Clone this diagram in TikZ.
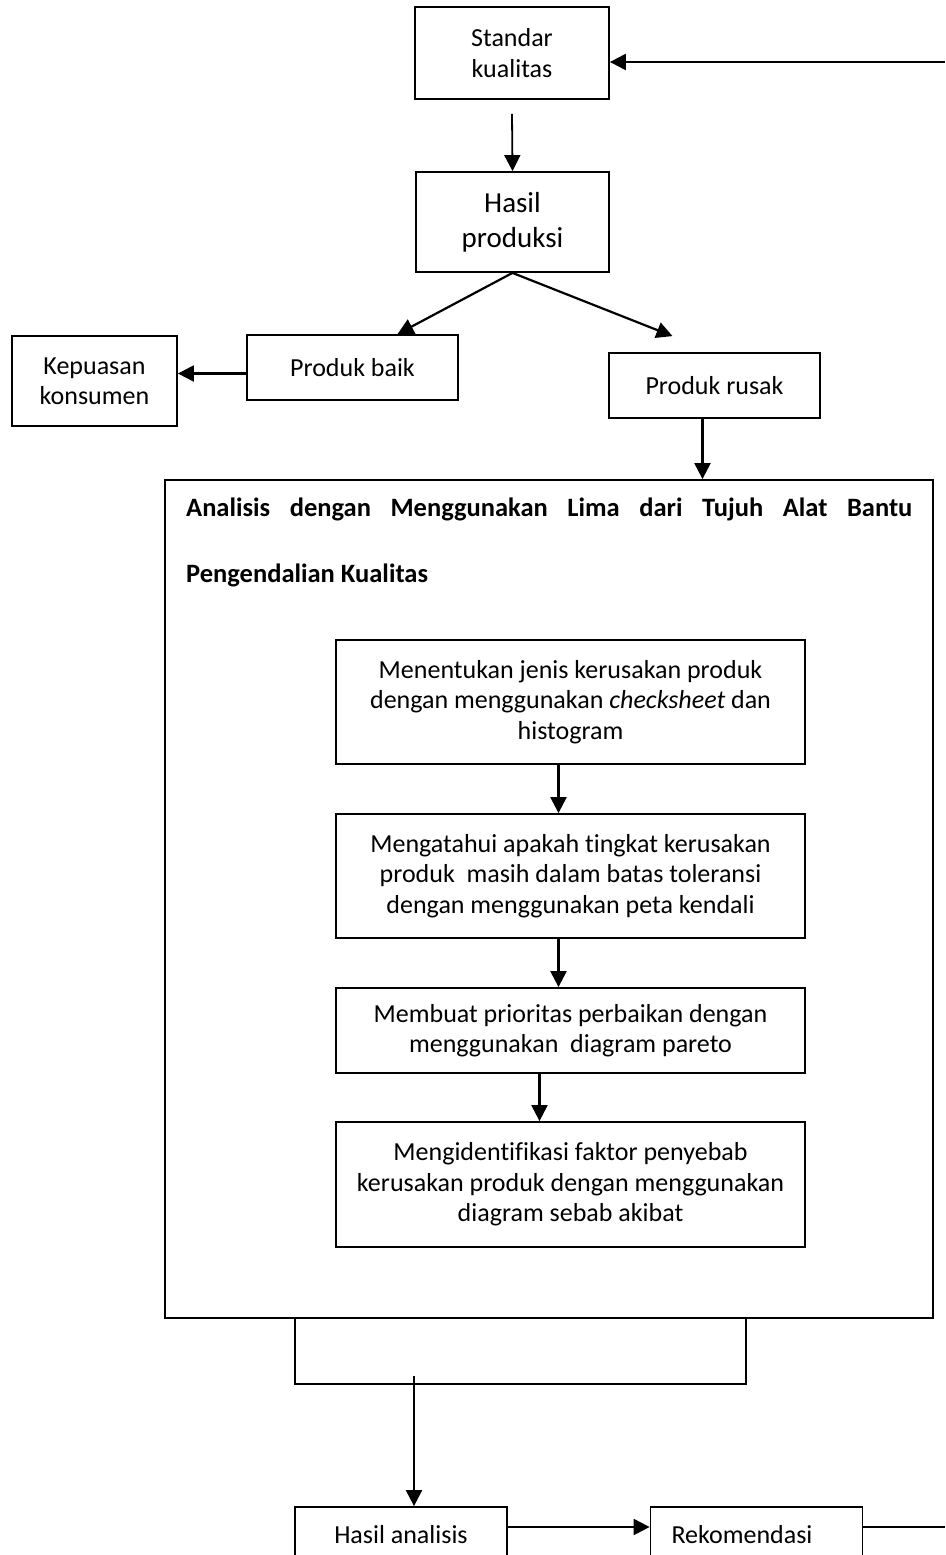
\documentclass[tikz,border=0pt]{standalone}
\usepackage{fontspec}
\setmainfont{Carlito}[Ligatures=NoCommon]
\usetikzlibrary{arrows.meta}
\tikzset{
  kotak/.style={draw,line width=1.8pt,rectangle,align=center,inner sep=0pt,
    font=\fontsize{26}{30.5}\selectfont},
  panah/.style={line width=2.2pt,-{Triangle[length=16pt,width=16pt]}},
}
\begin{document}
\begin{tikzpicture}[x=1pt,y=-1pt]
\clip (0,0) rectangle (945,1555);

%atas
\node[kotak,minimum width=194pt,minimum height=92pt] (std) at (512,53) {Standar\\kualitas};
\node[kotak,minimum width=193pt,minimum height=100pt,font=\fontsize{29}{35}\selectfont] (hasil) at (512.5,222) {Hasil\\produksi};
\node[kotak,minimum width=211pt,minimum height=65pt] (baik) at (352.5,367.5) {Produk baik};
\node[kotak,minimum width=165pt,minimum height=90pt] (puas) at (94.5,381) {Kepuasan\\konsumen};
\node[kotak,minimum width=211pt,minimum height=65pt] (rusak) at (714.5,385.5) {Produk rusak};

%kotak analisis
\node[kotak,minimum width=768pt,minimum height=838pt] (analisis) at (549,899) {};
\node[anchor=west,inner sep=0pt,font=\fontsize{26.5}{30}\selectfont\bfseries] (judul1) at (186,509)
  {\makebox[726pt][s]{Analisis dengan Menggunakan Lima dari Tujuh Alat Bantu}};
\node[anchor=west,inner sep=0pt,font=\fontsize{26.5}{30}\selectfont\bfseries] (judul2) at (186,575)
  {Pengendalian Kualitas};

\node[kotak,minimum width=469pt,minimum height=124pt] (k1) at (570.5,702)
  {Menentukan jenis kerusakan produk\\dengan menggunakan \textit{checksheet} dan\\histogram};
\node[kotak,minimum width=469pt,minimum height=124pt] (k2) at (570.5,876)
  {Mengatahui apakah tingkat kerusakan\\produk\ \ masih dalam batas toleransi\\dengan menggunakan peta kendali};
\node[kotak,minimum width=469pt,minimum height=85pt] (k3) at (570.5,1030.5)
  {Membuat prioritas perbaikan dengan\\menggunakan\ \ diagram pareto};
\node[kotak,minimum width=469pt,minimum height=125pt] (k4) at (570.5,1184.5)
  {Mengidentifikasi faktor penyebab\\kerusakan produk dengan menggunakan\\diagram sebab akibat};

%bawah
\node[kotak,minimum width=451pt,minimum height=66pt] (gab) at (520.5,1351) {};
\node[kotak,minimum width=212pt,minimum height=56pt] (hasilan) at (401,1535) {Hasil analisis};
\node[kotak,minimum width=211pt,minimum height=56pt,text width=170pt,align=left,inner xsep=21pt] (rekom) at (756.5,1535) {Rekomendasi};

%panah
\coordinate (kanan1) at (945,62);
\draw[panah] (kanan1) -- (kanan1 -| std.east);
\draw[panah,line width=1.8pt] ([yshift=-14pt]std.south) -- (hasil.north);
\draw[panah] (hasil.south) -- ([xshift=45pt]baik.north);
\draw[panah] (hasil.south) -- ([xshift=-42pt,yshift=16pt]rusak.north);
\draw[panah] ([yshift=-6pt]baik.west) -- ([yshift=-6pt]baik.west -| puas.east);
\draw[panah] ([xshift=-12pt]rusak.south) -- ([xshift=-12pt]rusak.south |- analisis.north);
\draw[panah] ([xshift=-12pt]k1.south) -- ([xshift=-12pt]k2.north);
\draw[panah] ([xshift=-12pt]k2.south) -- ([xshift=-12pt]k3.north);
\draw[panah] ([xshift=-31pt]k3.south) -- ([xshift=-31pt]k4.north);
\coordinate (g1) at (414,1376);
\draw[panah] (g1) -- (g1 |- hasilan.north);
\draw[panah] ([yshift=8pt]hasilan.east) -- ([yshift=8pt]hasilan.east -| rekom.west);
\coordinate (kanan2) at (945,1527);
\draw[line width=2pt] (rekom.east |- kanan2) -- (kanan2);

\end{tikzpicture}
\end{document}
